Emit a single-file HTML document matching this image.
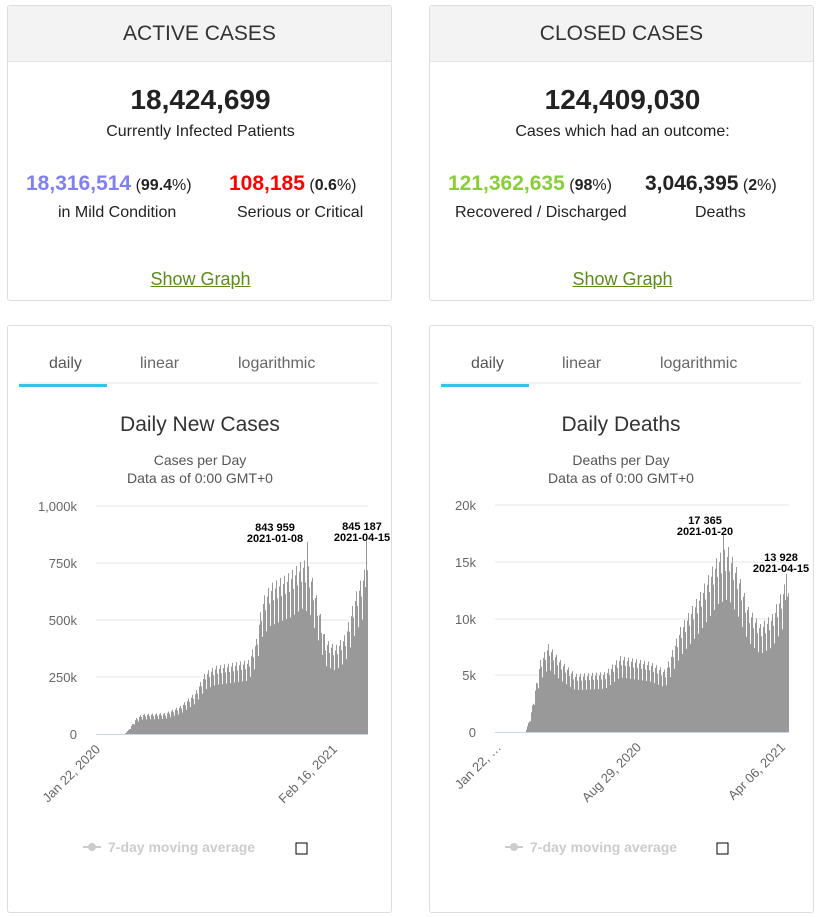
<!DOCTYPE html>
<html><head><meta charset="utf-8"><style>
body{margin:0;width:821px;height:917px;background:#fff;font-family:"Liberation Sans",sans-serif;position:relative;overflow:hidden}
.card{position:absolute;border:1px solid #ddd;border-radius:3px;background:#fff;box-sizing:border-box}
.hd{height:55px;background:#f3f3f3;border-bottom:1px solid #e4e4e4;text-align:center;line-height:56px;font-size:21px;color:#333}
.abs{position:absolute;text-align:center;white-space:nowrap}
.big{font-size:28px;font-weight:bold;color:#222}
.sub{font-size:16px;color:#222}
.num{font-size:21px;font-weight:bold}
.link{font-size:18px;color:#5b8c1c;text-decoration:underline}
svg text{font-family:"Liberation Sans",sans-serif}
</style></head><body>
<div class="card" style="left:7px;top:5px;width:385px;height:296px">
<div class="hd">ACTIVE CASES</div>
<div class="abs big" style="left:0;width:385px;top:78px">18,424,699</div>
<div class="abs sub" style="left:0;width:385px;top:117px">Currently Infected Patients</div>
<div class="abs" style="left:18px;top:166px"><span class="num" style="color:#8080f0">18,316,514</span> <span class="sub">(<b>99.4</b>%)</span></div>
<div class="abs sub" style="left:50px;top:198px">in Mild Condition</div>
<div class="abs" style="left:221px;top:166px"><span class="num" style="color:#f00">108,185</span> <span class="sub">(<b>0.6</b>%)</span></div>
<div class="abs sub" style="left:229px;top:198px">Serious or Critical</div>
<div class="abs link" style="left:0;width:385px;top:263px">Show Graph</div>
</div>
<div class="card" style="left:429px;top:5px;width:385px;height:296px">
<div class="hd">CLOSED CASES</div>
<div class="abs big" style="left:0;width:385px;top:78px">124,409,030</div>
<div class="abs sub" style="left:0;width:385px;top:117px">Cases which had an outcome:</div>
<div class="abs" style="left:18px;top:166px"><span class="num" style="color:#8acd3a">121,362,635</span> <span class="sub">(<b>98</b>%)</span></div>
<div class="abs sub" style="left:25px;top:198px">Recovered / Discharged</div>
<div class="abs" style="left:215px;top:166px"><span class="num" style="color:#222">3,046,395</span> <span class="sub">(<b>2</b>%)</span></div>
<div class="abs sub" style="left:265px;top:198px">Deaths</div>
<div class="abs link" style="left:0;width:385px;top:263px">Show Graph</div>
</div>
<div class="card" style="left:7px;top:325px;width:385px;height:588px"></div>
<div class="card" style="left:429px;top:325px;width:385px;height:588px"></div>
<svg width="821" height="917" style="position:absolute;left:0;top:0" id="s">
<g font-size="16" fill="#555">
<text x="49" y="368">daily</text><text x="140" y="368" fill="#666">linear</text><text x="238" y="368" fill="#666">logarithmic</text>
<text x="471" y="368">daily</text><text x="562" y="368" fill="#666">linear</text><text x="660" y="368" fill="#666">logarithmic</text>
</g>
<line x1="19" y1="383" x2="379" y2="383" stroke="#e6e6e6"/><rect x="19" y="384" width="88" height="3" fill="#3cc0e8"/>
<line x1="441" y1="383" x2="801" y2="383" stroke="#e6e6e6"/><rect x="441" y="384" width="88" height="3" fill="#3cc0e8"/>
<text x="200" y="431" text-anchor="middle" font-size="21" fill="#333">Daily New Cases</text>
<text x="200" y="465" text-anchor="middle" font-size="14" fill="#555">Cases per Day</text>
<text x="200" y="483" text-anchor="middle" font-size="14" fill="#555">Data as of 0:00 GMT+0</text>
<text x="621" y="431" text-anchor="middle" font-size="21" fill="#333">Daily Deaths</text>
<text x="621" y="465" text-anchor="middle" font-size="14" fill="#555">Deaths per Day</text>
<text x="621" y="483" text-anchor="middle" font-size="14" fill="#555">Data as of 0:00 GMT+0</text>
<g stroke="#e6e6e6"><line x1="96" y1="506" x2="368" y2="506"/><line x1="96" y1="563" x2="368" y2="563"/><line x1="96" y1="620" x2="368" y2="620"/><line x1="96" y1="677" x2="368" y2="677"/>
<line x1="495" y1="505" x2="789" y2="505"/><line x1="495" y1="562" x2="789" y2="562"/><line x1="495" y1="619" x2="789" y2="619"/><line x1="495" y1="675" x2="789" y2="675"/></g>
<g font-size="13" fill="#666" text-anchor="end">
<text x="77" y="511">1,000k</text><text x="77" y="568">750k</text><text x="77" y="625">500k</text><text x="77" y="682">250k</text><text x="77" y="739">0</text>
<text x="476" y="510">20k</text><text x="476" y="567">15k</text><text x="476" y="624">10k</text><text x="476" y="680">5k</text><text x="476" y="737">0</text>
</g>
<g id="b1" fill="#999"></g><g id="b2" fill="#999"></g>
<line x1="96" y1="734.5" x2="368" y2="734.5" stroke="#ccd6eb"/>
<line x1="495" y1="732.5" x2="789" y2="732.5" stroke="#ccd6eb"/>
<g font-size="13" fill="#666" text-anchor="end">
<text transform="translate(101,750) rotate(-45)">Jan 22, 2020</text>
<text transform="translate(338,750) rotate(-45)">Feb 16, 2021</text>
<text transform="translate(502,748) rotate(-45)">Jan 22, …</text>
<text transform="translate(642,748) rotate(-45)">Aug 29, 2020</text>
<text transform="translate(786,748) rotate(-45)">Apr 06, 2021</text>
</g>
<g font-size="11" font-weight="bold" fill="#000" text-anchor="middle" font-family="Liberation Mono">
<text x="275" y="531">843 959</text><text x="275" y="542">2021-01-08</text>
<text x="362" y="530">845 187</text><text x="362" y="541">2021-04-15</text>
<text x="705" y="524">17 365</text><text x="705" y="535">2021-01-20</text>
<text x="781" y="561">13 928</text><text x="781" y="572">2021-04-15</text>
</g>
<g font-size="14" font-weight="bold" fill="#ccc">
<line x1="83" y1="847" x2="101" y2="847" stroke="#ccc" stroke-width="2"/><circle cx="92" cy="847" r="4"/><text x="108" y="852">7-day moving average</text>
<rect x="296" y="843" width="11" height="11" fill="#fff" stroke="#000"/>
<line x1="505" y1="847" x2="523" y2="847" stroke="#ccc" stroke-width="2"/><circle cx="514" cy="847" r="4"/><text x="530" y="852">7-day moving average</text>
<rect x="717" y="843" width="11" height="11" fill="#fff" stroke="#000"/>
</g>
</svg>
<script>
function draw(id,x0,x1,base,env,peaks){
 var g=document.getElementById(id),h='';
 for(var x=x0;x<x1;x+=1){
  var v=0;for(var i=0;i<env.length-1;i++){if(x>=env[i][0]&&x<=env[i+1][0]){var t=(x-env[i][0])/(env[i+1][0]-env[i][0]);v=env[i][1]+t*(env[i+1][1]-env[i][1]);}}
  var k=Math.floor((x-x0)/0.8)%5;var m=[1,0.88,0.72,0.95,1.02][k];
  var hh=v*m; if(peaks[x])hh=peaks[x];
  if(hh>0.3) h+='<rect x="'+x+'" y="'+(base-hh)+'" width="1" height="'+hh+'"/>';
 }
 g.innerHTML=h;
}
draw('b1',96,368,734,[[96,0],[124,0],[128,4],[136,16],[142,20],[165,21],[180,28],[195,42],[205,62],[215,68],[248,74],[256,95],[262,135],[270,150],[290,162],[303,175],[310,165],[318,130],[325,95],[335,88],[345,100],[355,140],[368,175]],{307:192,366:193});
draw('b2',496,789,732,[[496,0],[525,0],[530,15],[540,72],[548,88],[560,72],[575,58],[605,60],[620,76],[650,70],[665,62],[680,105],[700,140],[718,178],[728,185],[738,160],[748,125],[760,108],[772,118],[785,150],[789,135]],{723:197,786:158});
</script>
</body></html>
